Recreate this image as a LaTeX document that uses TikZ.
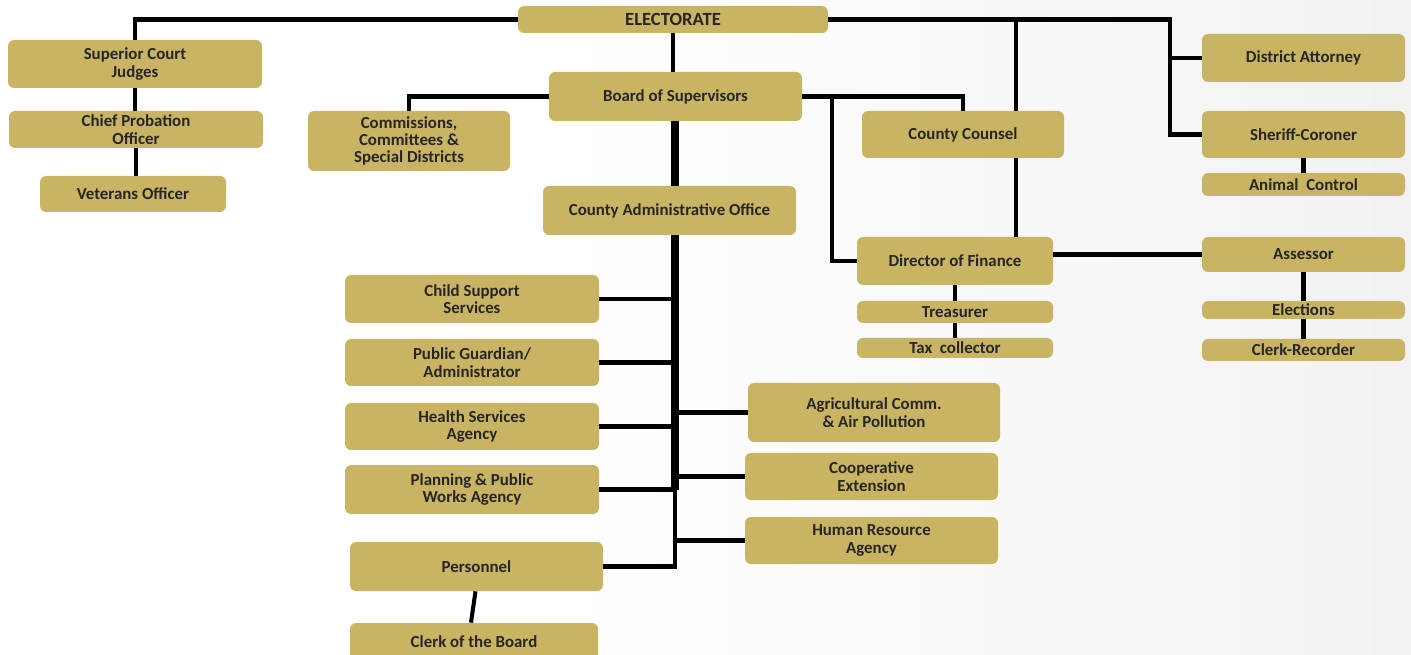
\documentclass[tikz,border=0pt]{standalone}
\usepackage{fontspec}
\setmainfont{Carlito}
\definecolor{gold}{RGB}{201,180,100}
\pgfdeclarehorizontalshading{bgshade}{100bp}{color(0bp)=(white); color(45bp)=(white); color(80bp)=(black!6); color(100bp)=(black!8)}
\begin{document}
\begin{tikzpicture}[x=0.02cm,y=-0.02cm,
  bx/.style 2 args={fill=gold, rounded corners=3.5pt, align=center, inner sep=0pt,
    minimum width=#1*0.02cm, minimum height=#2*0.02cm,
    font=\bfseries\fontsize{9.6}{9.9}\selectfont, text=black!85},
  ln/.style={line width=2.3pt, black},
  thk/.style={line width=4.5pt, black}]
\useasboundingbox (0,0) rectangle (1411,655);
\shade[shading=bgshade] (0,0) rectangle (1411,655);

% nodes
\node[bx={310}{27}, font=\bfseries\fontsize{10.6}{11}\selectfont] (elect) at (673,19.5) {ELECTORATE};
\node[bx={254}{48}] (sup) at (135,64) {Superior Court\\Judges};
\node[bx={254}{37}] (cpo) at (136,129.5) {Chief Probation\\Officer};
\node[bx={186}{36}] (vet) at (133,194) {Veterans Officer};
\node[bx={202}{60}] (com) at (409,141) {Commissions,\\Committees \&\\Special Districts};
\node[bx={253}{49}] (bos) at (675.5,96.5) {Board of Supervisors};
\node[bx={202}{47}] (cc) at (963,134.5) {County Counsel};
\node[bx={203}{48}] (da) at (1303.5,58) {District Attorney};
\node[bx={203}{47}] (sher) at (1303.5,134.5) {Sheriff-Coroner};
\node[bx={203}{23}] (anim) at (1303.5,184.5) {Animal\ \ Control};
\node[bx={253}{49}] (cao) at (669.5,210.5) {County Administrative Office};
\node[bx={196}{48}] (dof) at (955,261) {Director of Finance};
\node[bx={196}{22}] (tre) at (955,312) {Treasurer};
\node[bx={196}{20}] (tax) at (955,348) {Tax\ \ collector};
\node[bx={203}{35}] (ass) at (1303.5,254.5) {Assessor};
\node[bx={203}{18}] (ele) at (1303.5,310) {Elections};
\node[bx={203}{22}] (clr) at (1303.5,350) {Clerk-Recorder};
\node[bx={254}{48}] (cs) at (472,299) {Child Support\\Services};
\node[bx={254}{47}] (pg) at (472,362.5) {Public Guardian/\\Administrator};
\node[bx={254}{47}] (hs) at (472,426.5) {Health Services\\Agency};
\node[bx={254}{49}] (pw) at (472,489.5) {Planning \& Public\\Works Agency};
\node[bx={253}{49}] (per) at (476.5,566.5) {Personnel};
\node[bx={248}{38}] (ctb) at (474,642) {Clerk of the Board};
\node[bx={252}{59}] (ag) at (874,412.5) {Agricultural Comm.\\\& Air Pollution};
\node[bx={253}{47}] (coop) at (871.5,476.5) {Cooperative\\Extension};
\node[bx={253}{47}] (hr) at (871.5,540.5) {Human Resource\\Agency};

% helper coordinates
\coordinate (rj) at (1170,0);
\coordinate (ccx) at (1016,0);
\coordinate (fx) at (832,0);
\coordinate (tr) at (675,0);
\coordinate (tend) at (675,490);

% connectors
\draw[ln] (sup.north) |- (elect.west);
\draw[ln] (sup.south) -- (sup.south |- cpo.north);
\draw[ln] (cpo.south) -- (cpo.south |- vet.north);
\draw[ln] (elect.east) -- (elect.east -| rj) |- (sher.west);
\draw[ln] (da.west) -- (da.west -| rj);
\draw[ln] (ccx |- elect.east) -- (ccx |- cc.north);
\draw[ln] (ccx |- cc.south) -- (ccx |- dof.north);
\draw[ln] (elect.south) -- (elect.south |- bos.north);
\draw[ln] (bos.west) -| (com.north);
\draw[ln] (bos.east) -| (cc.north);
\draw[ln] (fx |- bos.east) |- (dof.west);
\draw[ln] (ass.west) -- (ass.west -| dof.east);
\draw[ln] (dof.south) -- (tre.north);
\draw[ln] (tre.south) -- (tax.north);
\draw[ln] (sher.south) -- (anim.north);
\draw[ln] (ass.south) -- (ele.north);
\draw[ln] (ele.south) -- (clr.north);
\draw[thk] (tr |- bos.south) -- (tr |- cao.north);
\draw[thk] (tr |- cao.south) -- (tend);
\draw[ln] (per.east) -| (tend);
\draw[ln] (cs.east) -- (cs.east -| tr);
\draw[ln] (pg.east) -- (pg.east -| tr);
\draw[ln] (hs.east) -- (hs.east -| tr);
\draw[ln] (pw.east) -- (pw.east -| tr);
\draw[ln] (ag.west) -- (ag.west -| tr);
\draw[ln] (coop.west) -- (coop.west -| tr);
\draw[ln] (hr.west) -- (hr.west -| tr);
\draw[ln] (per.south) ++(-1,0) -- ([xshift=-3*0.02cm]ctb.north);
\end{tikzpicture}
\end{document}
